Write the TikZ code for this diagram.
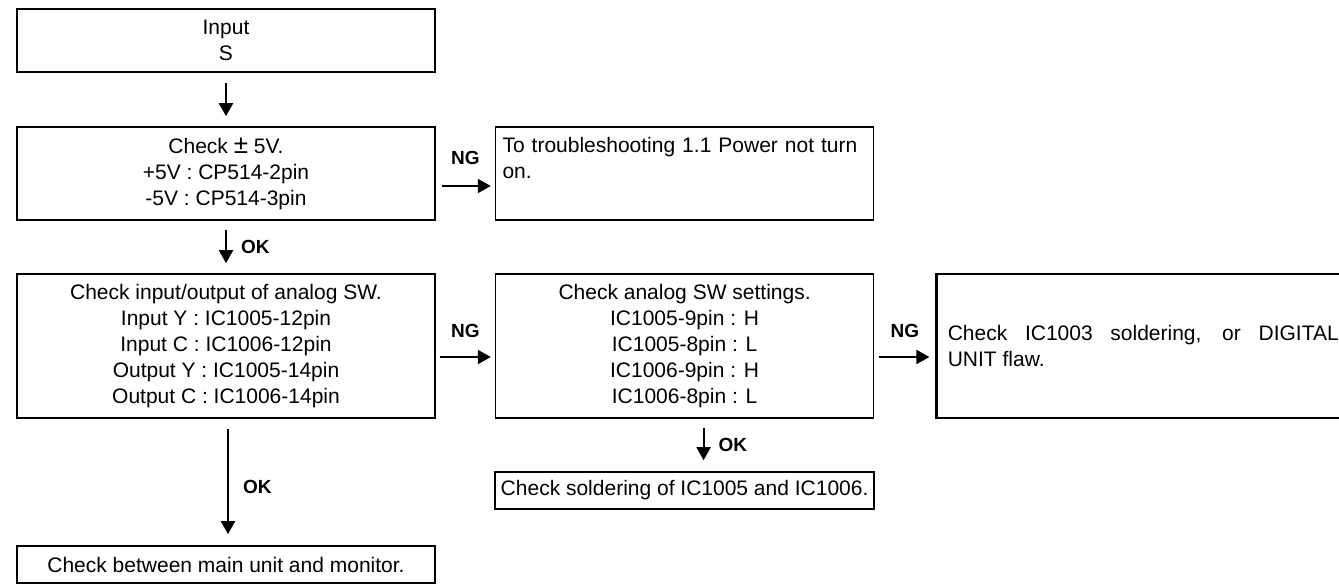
\documentclass[tikz,border=0pt]{standalone}
\usepackage{fontspec}
\setmainfont{Liberation Sans}
\usetikzlibrary{arrows.meta, positioning}

\begin{document}
\begin{tikzpicture}[x=0.5pt, y=-0.5pt, font=\fontsize{10.5pt}{13pt}\selectfont,
    blk/.style={draw, line width=0.8pt, minimum width=209pt, align=center, inner sep=2pt},
    thk/.style={line width=1.4pt},
    arr/.style={-{Triangle[length=6.5pt, width=7pt]}, line width=1pt},
    lbl/.style={font=\fontsize{9.5pt}{11pt}\selectfont\bfseries, inner sep=0pt}]
    \useasboundingbox (0,0) rectangle (1339,585);
    \node[blk, thk, minimum height=31.5pt] (inp) at (226,40.5) {Input\\S};
    \node[blk, minimum height=46.5pt, below=26.4pt of inp] (pwr) {Check {\fontsize{13pt}{13pt}\selectfont ±} 5V.\\+5V : CP514-2pin\\-5V : CP514-3pin};
    \node[blk, minimum height=72pt, below=26.2pt of pwr] (io) {Check input/output of analog SW.\\Input Y : IC1005-12pin\\Input C : IC1006-12pin\\Output Y : IC1005-14pin\\Output C : IC1006-14pin};
    \node[blk, minimum height=18.5pt, below=63.2pt of io] (mon) {Check between main unit and monitor.};
    \node[draw, line width=0.7pt, align=left, text width=182pt, inner xsep=3.5pt, inner ysep=4pt,
          text height=8.75pt, text depth=29.75pt, right=29.5pt of pwr] (trbl) {To troubleshooting 1.1 Power not turn\\on.};
    \node[blk, minimum width=189pt, minimum height=72pt, right=29.5pt of io] (sw) {Check analog SW settings.\\IC1005-9pin : H\\IC1005-8pin : L\\IC1006-9pin : H\\IC1006-8pin : L};
    \node[blk, minimum width=189.5pt, minimum height=18.5pt, below=26.2pt of sw] (sold) {Check soldering of IC1005 and IC1006.};
    \node[draw, thk, align=justify, text width=195.5pt, inner xsep=5.5pt, minimum height=72pt,
          right=30.5pt of sw] (dig) {Check IC1003 soldering, or DIGITAL\linebreak UNIT flaw.};

    \draw[arr, shorten <=5pt, shorten >=5pt] (inp) -- (pwr);
    \draw[arr, shorten <=4.5pt, shorten >=5pt] (pwr) -- node[lbl, right=7pt] (ok1) {OK} (io);
    \draw[arr, shorten <=5pt, shorten >=5.5pt] ([xshift=1pt]io.south) -- node[lbl, right=7pt, pos=0.54] (ok2) {OK} ([xshift=1pt]mon.north);
    \draw[arr, shorten <=4.5pt, shorten >=5.5pt] ([xshift=9.5pt]sw.south) -- node[lbl, right=7pt] (ok3) {OK} ([xshift=9.5pt]sold.north);
    \draw[arr, shorten <=3pt, shorten >=2pt] ([yshift=-6.25pt]pwr.east) -- node[lbl, above=10pt] (ng1) {NG} ([yshift=-6.25pt]trbl.west);
    \draw[arr, shorten <=2pt, shorten >=2pt] ([yshift=-5.5pt]io.east) -- node[lbl, above=9pt] (ng2) {NG} ([yshift=-5.5pt]sw.west);
    \draw[arr, shorten <=2.5pt, shorten >=3pt] ([yshift=-5.5pt]sw.east) -- node[lbl, above=9pt] (ng3) {NG} ([yshift=-5.5pt]dig.west);
\end{tikzpicture}
\end{document}
